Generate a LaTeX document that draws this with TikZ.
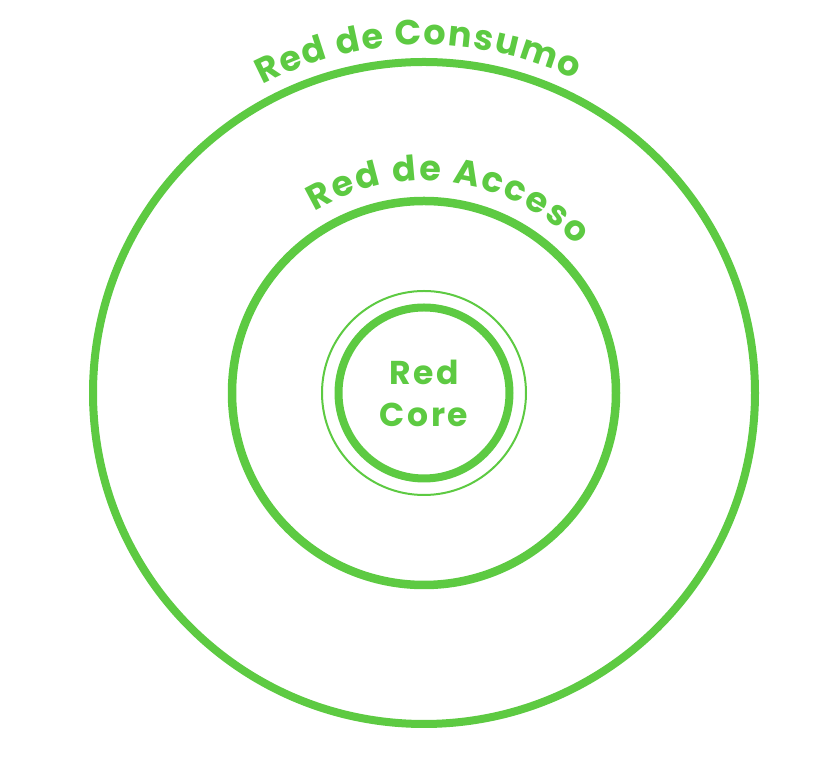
\documentclass[tikz,border=0pt]{standalone}
\usepackage{fontspec}
\setmainfont{Poppins}
\newfontfamily\corefont{Poppins}[LetterSpace=8]
\usetikzlibrary{decorations.text}
\definecolor{netgreen}{RGB}{93,202,66}
\newcommand\arcfnt{\fontsize{35}{35}\selectfont\bfseries}
\tikzset{
  ring/.style={draw=netgreen, line width=8pt},
  thinring/.style={draw=netgreen, line width=2pt},
  arclabel/.style 2 args={decorate, decoration={text effects along path, text={#1}, text align=center,
     text effects/.cd, text along path,
     characters={text=netgreen, font=\arcfnt},
     character widths={font=\arcfnt, inner xsep=#2}}}
}
\begin{document}
\begin{tikzpicture}[x=1pt,y=1pt]
\useasboundingbox (0,0) rectangle (820,762);
\coordinate (c) at (424,369);
\draw[ring] (c) circle[radius=331];
\draw[ring, line width=8.5pt] (c) circle[radius=192];
\draw[ring] (c) circle[radius=85.5];
\draw[thinring] (c) circle[radius=102];
\path[arclabel={Red de Consumo}{0.8pt}] (c) ++(147:348) arc[start angle=147, end angle=35, radius=348];
\path[arclabel={Red de Acceso}{1.05pt}] (c) ++(139:212) arc[start angle=139, end angle=26, radius=212];
\node[text=netgreen, font=\corefont\fontsize{33}{42}\selectfont\bfseries, align=center] (core) at (c) {Red\\Core};
\end{tikzpicture}
\end{document}
